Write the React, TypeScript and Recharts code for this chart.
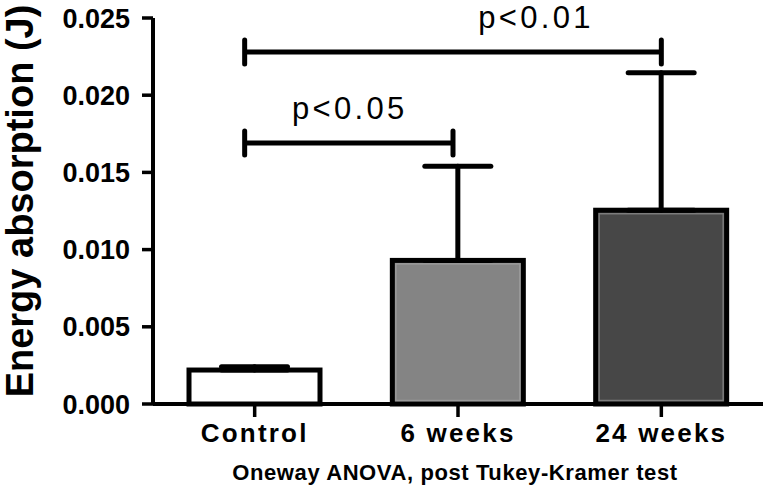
import { BarChart, Bar, XAxis, YAxis, ErrorBar, Cell, ReferenceLine, Label } from "recharts";

// groups and measured energy absorption (J), mean + SD
const groups = ["Control", "6 weeks", "24 weeks"];
const meanEnergy = [0.0022, 0.0093, 0.01255];
const sdEnergy = [0.00022, 0.0061, 0.0089];
const yTicks = [0, 0.005, 0.01, 0.015, 0.02, 0.025];

// Tukey-Kramer comparisons drawn as brackets
const comparisons = [
  { from: "Control", to: "6 weeks", y: 0.0169, label: "p<0.05" },
  { from: "Control", to: "24 weeks", y: 0.0228, label: "p<0.01" },
];

const barFills = ["#ffffff", "#848484", "#474747"];
const barInner = ["none", "#9a9a9a", "#7c7c7c"];
const bracketLook: Record<string, { rightInset: number; textShift: number }> = {
  "p<0.05": { rightInset: 5, textShift: 1 },
  "p<0.01": { rightInset: 0, textShift: 83 },
};

const FONT = "'Liberation Sans', Arial, Helvetica, sans-serif";

const data = groups.map((g, i) => ({
  group: g,
  mean: meanEnergy[i],
  err: [0, sdEnergy[i]],
}));

const BarShape = (props: any) => {
  const { x, y, width, height, fill, index } = props;
  const inner = barInner[index];
  return (
    <g>
      <rect x={x} y={y} width={width} height={height} fill={fill} stroke="#000" strokeWidth={5} />
      {inner !== "none" && (
        <rect x={x + 3.5} y={y + 3.5} width={width - 7} height={height - 7} fill="none" stroke={inner} strokeWidth={1.5} />
      )}
    </g>
  );
};

const bracketShape = (label: string) => (props: any) => {
  const { x1, y1, x2 } = props;
  const look = bracketLook[label];
  const left = x1 - 10;
  const right = x2 - look.rightInset;
  const d = `M${left},${y1 - 12}V${y1 + 12}M${left},${y1}H${right}M${right},${y1 - 12}V${y1 + 12}`;
  return (
    <g>
      <path d={d} stroke="#000" strokeWidth={5} strokeLinecap="round" fill="none" />
      <text
        x={(left + right) / 2 + look.textShift}
        y={y1 - 24}
        textAnchor="middle"
        fontFamily={FONT}
        fontSize={31}
        letterSpacing={3.3}
        fill="#000"
      >
        {label}
      </text>
    </g>
  );
};

const XTick = ({ x, y, payload }: any) => (
  <text x={x} y={y} dy={25} textAnchor="middle" fontFamily={FONT} fontSize={26} fontWeight={700} letterSpacing={2.2} fill="#000">
    {payload.value}
  </text>
);

export default function App() {
  return (
    <div style={{ width: 767, height: 485 }}>
      <style>{`body{margin:0;background:#fff}`}</style>
      <BarChart
        width={767}
        height={485}
        data={data}
        margin={{ top: 18, right: 4, bottom: 0, left: 0 }}
        style={{ fontFamily: FONT }}
      >
        <XAxis
          dataKey="group"
          height={81}
          axisLine={{ stroke: "#000", strokeWidth: 4 }}
          tickLine={{ stroke: "#000", strokeWidth: 3.5 }}
          tickSize={13}
          tickMargin={0}
          tick={<XTick />}
          interval={0}
        >
          <Label
            content={({ viewBox }: any) => (
              <text
                x={viewBox.x + viewBox.width / 2 - 3}
                y={viewBox.y + viewBox.height - 5}
                textAnchor="middle"
                fontFamily={FONT}
                fontSize={22}
                fontWeight={700}
                letterSpacing={0.6}
                fill="#000"
              >
                Oneway ANOVA, post Tukey-Kramer test
              </text>
            )}
          />
        </XAxis>
        <YAxis
          width={153}
          domain={[0, 0.025]}
          ticks={yTicks}
          interval={0}
          tickFormatter={(v: number) => v.toFixed(3)}
          axisLine={{ stroke: "#000", strokeWidth: 4 }}
          tickLine={{ stroke: "#000", strokeWidth: 3.5 }}
          tickSize={11}
          tickMargin={12}
          tick={{ fill: "#000", fontSize: 27, fontWeight: 700, fontFamily: FONT }}
        >
          <Label
            content={({ viewBox }: any) => {
              const cx = 33;
              const cy = viewBox.y + viewBox.height / 2 - 10;
              return (
                <text
                  x={cx}
                  y={cy}
                  transform={`rotate(-90, ${cx}, ${cy})`}
                  textAnchor="middle"
                  fontFamily={FONT}
                  fontSize={38}
                  fontWeight={700}
                  fill="#000"
                >
                  Energy absorption (J)
                </text>
              );
            }}
          />
        </YAxis>
        <Bar dataKey="mean" barSize={131} shape={<BarShape />} isAnimationActive={false}>
          {data.map((d, i) => (
            <Cell key={d.group} fill={barFills[i]} />
          ))}
          <ErrorBar dataKey="err" width={33} stroke="#000" strokeWidth={5} strokeLinecap="round" isAnimationActive={false} />
        </Bar>
        {comparisons.map((c) => (
          <ReferenceLine
            key={c.label}
            segment={[
              { x: c.from, y: c.y },
              { x: c.to, y: c.y },
            ]}
            shape={bracketShape(c.label)}
          />
        ))}
      </BarChart>
    </div>
  );
}
